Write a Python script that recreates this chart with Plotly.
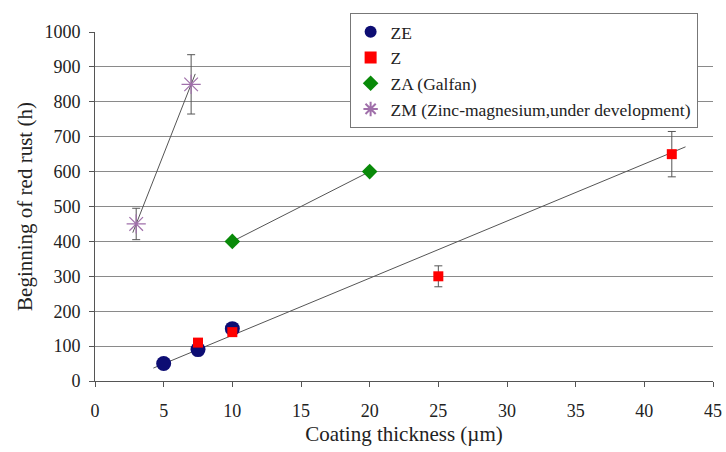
import plotly.graph_objects as go

# ---- data ----
ze_x = [5, 7.5, 10]
ze_y = [50, 90, 150]

z_x = [7.5, 10, 25, 42]
z_y = [110, 140, 300, 650]
z_err = [0, 0, 30, 65]

za_x = [10, 20]
za_y = [400, 600]

zm_x = [3, 7]
zm_y = [450, 850]
zm_err = [45, 85]

# trend line for ZE+Z: slope, intercept, x-extent
zz_slope = 16.36
zz_intercept = -32.5
zz_xrange = [4.25, 43.0]
# ZM trend extent
zm_xrange = [2.75, 7.3]

x_ticks = [0, 5, 10, 15, 20, 25, 30, 35, 40, 45]
y_ticks = [0, 100, 200, 300, 400, 500, 600, 700, 800, 900, 1000]

FONT = "'Liberation Serif', 'Times New Roman', Times, serif"
LINE = "#555555"
ERR = "#555555"
TXT = "#222222"

fig = go.Figure()

# trend lines
fig.add_trace(go.Scatter(
    x=zz_xrange, y=[zz_slope * v + zz_intercept for v in zz_xrange],
    mode="lines", line=dict(color=LINE, width=1), showlegend=False, hoverinfo="skip"))

zm_slope = (zm_y[1] - zm_y[0]) / (zm_x[1] - zm_x[0])
zm_int = zm_y[0] - zm_slope * zm_x[0]
fig.add_trace(go.Scatter(
    x=zm_xrange, y=[zm_slope * v + zm_int for v in zm_xrange],
    mode="lines", line=dict(color=LINE, width=1), showlegend=False, hoverinfo="skip"))

fig.add_trace(go.Scatter(
    x=za_x, y=za_y, mode="lines", line=dict(color=LINE, width=1),
    showlegend=False, hoverinfo="skip"))

# data series
fig.add_trace(go.Scatter(
    x=ze_x, y=ze_y, mode="markers", name="ZE",
    marker=dict(symbol="circle", size=15, color="#0d0d73")))

fig.add_trace(go.Scatter(
    x=z_x, y=z_y, mode="markers", name="Z",
    marker=dict(symbol="square", size=10, color="#ff0000"),
    error_y=dict(type="data", array=z_err, visible=True, color=ERR, thickness=1, width=4)))

fig.add_trace(go.Scatter(
    x=za_x, y=za_y, mode="markers", name="ZA (Galfan)",
    marker=dict(symbol="diamond", size=12, color="#098a09")))

fig.add_trace(go.Scatter(
    x=zm_x, y=zm_y, mode="markers", name="ZM (Zinc-magnesium,under development)",
    marker=dict(symbol="asterisk-open", size=16, color="#a070aa",
                line=dict(color="#a070aa", width=1.2)),
    error_y=dict(type="data", array=zm_err, visible=True, color=ERR, thickness=1, width=4)))

fig.update_layout(
    width=726, height=452,
    margin=dict(l=95, r=13, t=32, b=71, autoexpand=False),
    plot_bgcolor="white", paper_bgcolor="white",
    font=dict(family=FONT, size=18, color=TXT),
    legend=dict(
        x=0.412, y=1.055, xanchor="left", yanchor="top",
        bgcolor="white", bordercolor="#777777", borderwidth=1,
        font=dict(family=FONT, size=17.5, color=TXT),
        tracegroupgap=0, itemsizing="constant", itemwidth=30,
    ),
    xaxis=dict(
        range=[0, 45], tickvals=x_ticks, ticks="outside", ticklen=5, tickcolor="#555555",
        showline=True, linecolor="#555555", linewidth=1, showgrid=False, zeroline=False,
        automargin=False, ticklabelstandoff=8,
        title=dict(text="Coating thickness (µm)", font=dict(family=FONT, size=21), standoff=6),
        tickfont=dict(family=FONT, size=18, color=TXT),
    ),
    yaxis=dict(
        range=[0, 1000], tickvals=y_ticks, ticks="outside", ticklen=5, tickcolor="#555555",
        showline=True, linecolor="#555555", linewidth=1, automargin=False,
        ticklabelstandoff=5,
        showgrid=True, gridcolor="#8a8a8a", gridwidth=1, zeroline=False,
        title=dict(text="Beginning of red rust (h)", font=dict(family=FONT, size=21), standoff=6),
        tickfont=dict(family=FONT, size=18, color=TXT),
    ),
)

fig.write_html("out.html", config={"displayModeBar": False},
               post_script="document.body.style.margin='0';document.body.style.padding='0';")
